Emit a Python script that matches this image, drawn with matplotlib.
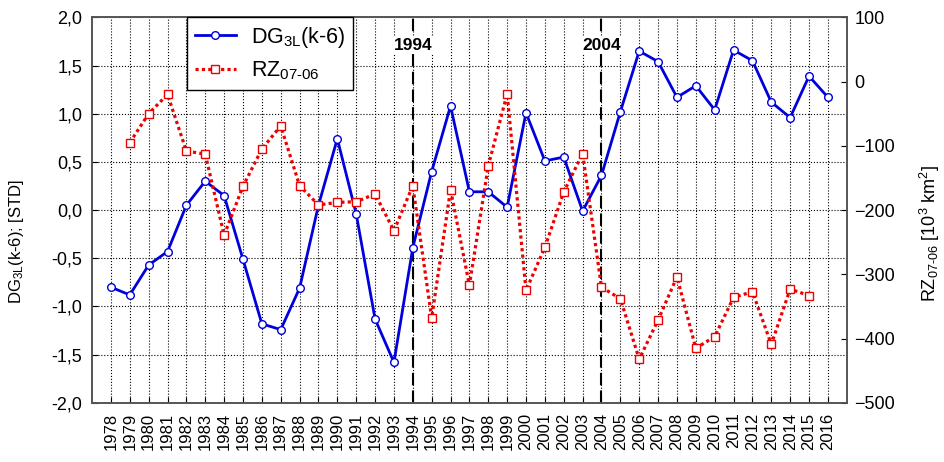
import matplotlib
matplotlib.use('Agg')
import matplotlib.pyplot as plt
from matplotlib.ticker import FuncFormatter

plt.rcParams['font.family'] = ['Liberation Sans', 'DejaVu Sans']
plt.rcParams['mathtext.fontset'] = 'custom'
plt.rcParams['mathtext.rm'] = 'Liberation Sans'
plt.rcParams['mathtext.it'] = 'Liberation Sans'
plt.rcParams['mathtext.default'] = 'regular'

years = list(range(1978, 2017))
dg = [-0.80, -0.88, -0.57, -0.43, 0.05, 0.30, 0.15, -0.51, -1.18, -1.24,
      -0.81, 0.05, 0.74, -0.04, -1.13, -1.58, -0.39, 0.40, 1.08, 0.19,
      0.19, 0.03, 1.01, 0.51, 0.55, -0.01, 0.36, 1.02, 1.65, 1.54,
      1.17, 1.29, 1.04, 1.66, 1.55, 1.12, 0.96, 1.39, 1.17]

rz_years = list(range(1979, 2016))
rz = [-95, -50, -20, -108, -113, -239, -163, -105, -69, -162,
      -192, -188, -187, -175, -232, -162, -368, -168, -317, -131,
      -19, -325, -258, -172, -112, -320, -338, -432, -371, -304,
      -415, -397, -336, -327, -409, -323, -333]

marked_years = [1994, 2004]

fig = plt.figure(figsize=(9.44, 4.62), dpi=100)
ax = fig.add_axes([0.0975, 0.128, 0.7995, 0.8345])
ax2 = ax.twinx()

ax.set_xlim(1977, 2017)
ax.set_ylim(-2.0, 2.0)
ax2.set_ylim(-500, 100)

ax.set_xticks(years)
ax.set_xticklabels([str(y) for y in years], rotation=90, fontsize=12)
ax.set_yticks([-2.0, -1.5, -1.0, -0.5, 0.0, 0.5, 1.0, 1.5, 2.0])
ax.yaxis.set_major_formatter(FuncFormatter(lambda v, p: ('%.1f' % v).replace('.', ',')))
ax.tick_params(axis='y', labelsize=13, direction='in', length=4, pad=7)
ax.tick_params(axis='x', direction='in', length=4, pad=7)
ax2.set_yticks(range(-500, 101, 100))
ax2.tick_params(axis='y', labelsize=13, direction='in', length=4, pad=5.5)

ax.grid(True, linestyle=':', color='black', linewidth=0.8)
ax.set_axisbelow(True)
for a in (ax, ax2):
    for s in a.spines.values():
        s.set_color('#555555')
        s.set_linewidth(1.2)

for yr in marked_years:
    ax.axvline(yr, color='black', linestyle=(0, (6, 2.5)), linewidth=1.5, zorder=1)
    ax.text(yr, 1.71, str(yr), ha='center', va='center', fontsize=12.5,
            fontweight='bold', zorder=2,
            bbox=dict(facecolor='white', edgecolor='none', pad=1))

l1, = ax.plot(years, dg, color='#0000DD', linewidth=2, marker='o',
              markersize=5.5, markerfacecolor='white', markeredgecolor='#0000DD',
              markeredgewidth=1, label='DG$_{3L}$(k-6)', zorder=3)
l2, = ax2.plot(rz_years, rz, color='#EE0000', linewidth=2.3, linestyle=(0, (1, 1)),
               marker='s', markersize=5.5, markerfacecolor='white',
               markeredgecolor='#EE0000', markeredgewidth=1,
               label='RZ$_{07\\text{-}06}$')

ax.set_ylabel('DG$_{3L}$(k-6); [STD]', fontsize=12)
ax.yaxis.set_label_coords(-0.087, 0.42)
ax2.set_ylabel('RZ$_{07\\text{-}06}$ [10$^3$ km$^2$]', fontsize=13)
ax2.yaxis.set_label_coords(1.094, 0.44)

leg = ax2.legend(handles=[l1, l2], loc='upper left', bbox_to_anchor=(0.126, 1.0),
                 fontsize=15.5, frameon=True, fancybox=False, framealpha=1,
                 edgecolor='black', handlelength=1.9, handletextpad=0.7,
                 borderpad=0.35, labelspacing=0.45, borderaxespad=0)
leg.get_frame().set_linewidth(1)

fig.savefig('out.png', dpi=100)
